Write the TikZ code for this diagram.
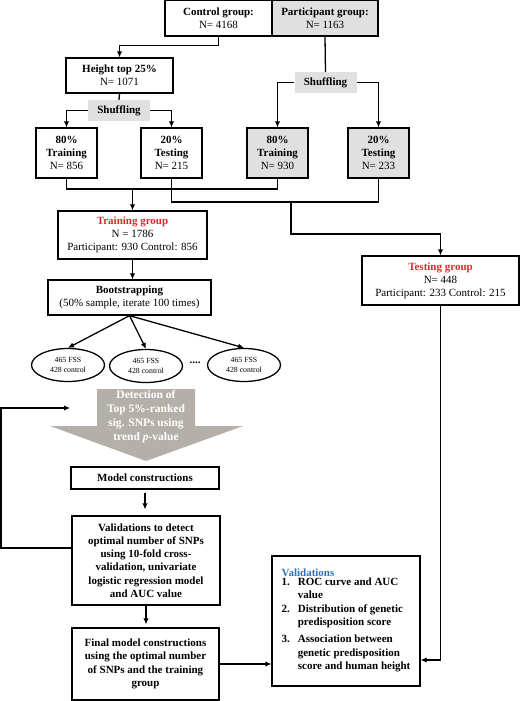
\documentclass[tikz,border=0pt]{standalone}
\usepackage{fontspec}
\setmainfont{Liberation Serif}
\usetikzlibrary{positioning, arrows.meta, shapes.geometric, calc}
\definecolor{boxgray}{HTML}{E0E0E0}
\definecolor{arrowgray}{HTML}{B4AFA9}
\definecolor{grpred}{HTML}{E3262B}
\definecolor{valblue}{HTML}{2E74B5}

\begin{document}
\begin{tikzpicture}[x=1pt, y=-1pt, font=\fontsize{11}{13}\selectfont,
  box/.style={draw, line width=1.3pt, align=center, inner sep=1pt},
  graybox/.style={box, fill=boxgray},
  boldbox/.style={box, font=\fontsize{11}{13.3}\selectfont\bfseries},
  shufbox/.style={fill=boxgray, font=\fontsize{11}{13}\selectfont\bfseries,
                  minimum width=62pt, minimum height=21pt, inner sep=0pt},
  sample/.style={ellipse, draw, line width=1.3pt, minimum width=73pt,
                 minimum height=33pt, inner sep=0pt, align=center,
                 font=\fontsize{7.8}{9.5}\selectfont},
  link/.style={line width=1.3pt},
  arr/.style={link, -{Latex[length=6pt, width=5.5pt]}}]
  \useasboundingbox (0,0) rectangle (520,701);

  % Source groups
  \node[box, minimum width=107pt, minimum height=36pt] (ctrl) at (218.5,18)
    {\textbf{Control group:}\\N= 4168};
  \node[graybox, minimum width=106pt, minimum height=36pt] (part) at (325,18)
    {\textbf{Participant group:}\\N= 1163};
  \node[box, minimum width=107pt, minimum height=35pt] (height) at (119.5,75.5)
    {\textbf{Height top 25\%}\\N= 1071};

  % Shuffling and split
  \node[shufbox] (shufctrl) at (119,110.5) {Shuffling};
  \node[shufbox] (shufpart) at (325.5,82.5) {Shuffling};
  \node[box, minimum width=61pt, minimum height=50pt] (trctrl) at (66.5,153)
    {\textbf{80\%}\\\textbf{Training}\\N= 856};
  \node[box, minimum width=61pt, minimum height=50pt] (tectrl) at (171.5,153)
    {\textbf{20\%}\\\textbf{Testing}\\N= 215};
  \node[graybox, minimum width=61pt, minimum height=50pt] (trpart) at (277.5,153)
    {\textbf{80\%}\\\textbf{Training}\\N= 930};
  \node[graybox, minimum width=61pt, minimum height=50pt] (tepart) at (378.5,153)
    {\textbf{20\%}\\\textbf{Testing}\\N= 233};

  % Training / testing groups
  \node[box, minimum width=149pt, minimum height=48pt] (traingrp) at (132.5,235)
    {\textcolor{grpred}{\textbf{Training group}}\\N = 1786\\Participant: 930 Control: 856};
  \node[box, minimum width=157pt, minimum height=49pt] (testgrp) at (440.5,280.5)
    {\textcolor{grpred}{\textbf{Testing group}}\\N= 448\\Participant: 233 Control: 215};
  \node[box, minimum width=163pt, minimum height=35pt] (boot) at (129.5,297.5)
    {\textbf{Bootstrapping}\\(50\% sample, iterate 100 times)};

  % Bootstrap samples
  \node[sample] (samp1) at (68,365) {465 FSS\\428 control};
  \node[sample] (samp2) at (146,366) {465 FSS\\428 control};
  \node[sample] (samp3) at (244,365) {465 FSS\\428 control};
  \node (dots) at (195,363) {\textbf{....}};

  % Detection arrow
  \fill[arrowgray] (97,389) -- (195,389) -- (195,426) -- (243,426) -- (146,461)
    -- (50,426) -- (97,426) -- cycle;
  \node[text=white, align=center, font=\fontsize{11.5}{14}\selectfont\bfseries]
    (detect) at (146,417) {Detection of\\Top 5\%-ranked\\sig. SNPs using\\trend \textit{p}-value};

  % Model steps
  \node[boldbox, minimum width=148pt, minimum height=22pt] (model) at (145,478)
    {Model constructions};
  \node[boldbox, minimum width=148pt, minimum height=89pt] (valid) at (146,560.5)
    {Validations to detect\\optimal number of SNPs\\using 10-fold cross-\\validation, univariate\\logistic regression model\\and AUC value};
  \node[boldbox, minimum width=147pt, minimum height=72pt] (final) at (145.5,664)
    {Final model constructions\\using the optimal number\\of SNPs and the training\\group};
  \node[boldbox, align=left, minimum width=148pt, minimum height=130pt,
    inner xsep=9pt] (valres) at (346,621)
    {\textcolor{valblue}{Validations}\\[-1pt]
     \begin{tabular}{@{}l@{\hspace{8pt}}l@{}}
       1. & ROC curve and AUC\\
          & value\\
       2. & Distribution of genetic\\
          & predisposition score\\[4pt]
       3. & Association between\\
          & genetic predisposition\\
          & score and human height
     \end{tabular}};

  % Connectors
  \draw[arr] (ctrl.south) -- ++(0,9) -| (height.north);
  \draw[link] (height.south) -- (shufctrl.north);
  \draw[arr] (shufctrl.west) -| (trctrl.north);
  \draw[arr] (shufctrl.east) -| (tectrl.north);
  \draw[link] (part.south) -- (shufpart.north);
  \draw[arr] (shufpart.west) -| (trpart.north);
  \draw[arr] (shufpart.east) -| (tepart.north);

  \coordinate (trjoin) at (132.5,189);
  \coordinate (tejoin) at (291,202);
  \draw[link] (trctrl.south) -- (trctrl.south |- trjoin) -- (trpart.south |- trjoin)
    -- (trpart.south);
  \draw[arr] (trjoin) -- (traingrp.north);
  \draw[link] (tectrl.south) -- (tectrl.south |- tejoin) -- (tepart.south |- tejoin)
    -- (tepart.south);
  \draw[arr] (tejoin) -- ++(0,32) -| (testgrp.north);

  \draw[arr] (traingrp.south) -- (traingrp.south |- boot.north);
  \draw[arr] (boot.south) -- (samp1.north);
  \draw[arr] (boot.south) -- (samp2.north);
  \draw[arr] (boot.south) -- (samp3.north);

  \coordinate (loopin) at (70,408);
  \coordinate (loopcorner) at (1,408);
  \draw[arr] ([yshift=12.5pt]valid.west) -| (loopcorner) -- (loopin);

  \draw[arr, shorten <=3pt, shorten >=6pt] (model.south) -- (model.south |- valid.north);
  \draw[arr, shorten >=3pt] (valid.south) -- (valid.south |- final.north);
  \draw[arr] (final.east) -- (final.east -| valres.west);
  \draw[arr] (testgrp.south) |- ([yshift=-39pt]valres.east);
\end{tikzpicture}
\end{document}
